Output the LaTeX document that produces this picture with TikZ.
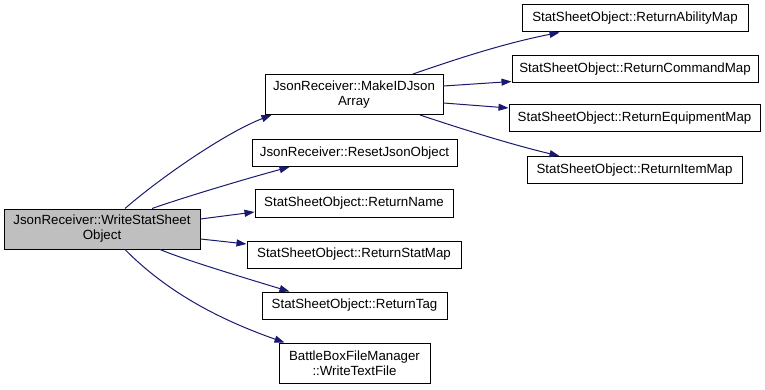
\documentclass[tikz,border=0pt]{standalone}
\usepackage{fontspec}
\setmainfont{Liberation Sans}
\usetikzlibrary{arrows.meta}
\definecolor{edgeblue}{HTML}{191970}
\definecolor{rootgray}{HTML}{BFBFBF}
\begin{document}
\begin{tikzpicture}[x=1pt,y=-1pt,
  fn/.style={draw=black,line width=1pt,fill=white,inner sep=0pt,align=center,
    font=\fontsize{13.3}{15}\selectfont},
  one/.style={fn,minimum height=27pt},
  two/.style={fn,minimum height=40pt},
  call/.style={draw=edgeblue,line width=1pt,
    -{Triangle[length=10pt,width=7pt,fill=edgeblue]}}]
\useasboundingbox (0,0) rectangle (765,390);

% caller
\node[two,fill=rootgray,minimum width=196pt] (root) at (102,229)
  {JsonReceiver::WriteStatSheet\\Object};

% direct callees
\node[two,minimum width=178pt] (mk) at (354,94.5) {JsonReceiver::MakeIDJson\\Array};
\node[one,minimum width=205pt] (reset) at (354.5,153) {JsonReceiver::ResetJsonObject};
\node[one,minimum width=198pt] (name) at (354,203.5) {StatSheetObject::ReturnName};
\node[one,minimum width=214pt] (stat) at (354,254.5) {StatSheetObject::ReturnStatMap};
\node[one,minimum width=185pt] (tag) at (354.5,305.5) {StatSheetObject::ReturnTag};
\node[two,minimum width=151pt] (wtf) at (354.5,363) {BattleBoxFileManager\\::WriteTextFile};

% callees of MakeIDJsonArray
\node[one,minimum width=226pt] (abil) at (635,18.5) {StatSheetObject::ReturnAbilityMap};
\node[one,minimum width=246pt] (cmd) at (635,69) {StatSheetObject::ReturnCommandMap};
\node[one,minimum width=251pt] (equip) at (634.5,118.5) {StatSheetObject::ReturnEquipmentMap};
\node[one,minimum width=215pt] (item) at (634.5,170) {StatSheetObject::ReturnItemMap};

% calls from WriteStatSheetObject
\draw[call] ([xshift=23pt]root.north) .. controls (160,178) and (225,133) .. ([xshift=7pt]mk.south west);
\draw[call] ([xshift=50pt]root.north) .. controls (185,197) and (245,179) .. ([xshift=38pt]reset.south west);
\draw[call] ([yshift=10pt]root.east) -- ([yshift=-8.5pt]name.west);
\draw[call] ([yshift=-10pt]root.east) -- ([yshift=10.5pt]stat.west);
\draw[call] ([xshift=58pt]root.south) .. controls (185,260) and (245,278) .. ([xshift=28pt]tag.north west);
\draw[call] ([xshift=23pt]root.south) .. controls (165,290) and (215,318) .. ([xshift=6pt]wtf.north west);

% calls from MakeIDJsonArray
\draw[call] ([xshift=59pt]mk.north) .. controls (445,63) and (500,44) .. ([xshift=38pt]abil.south west);
\draw[call] ([yshift=8.5pt]mk.east) -- ([yshift=1.5pt]cmd.south west);
\draw[call] ([yshift=-8.5pt]mk.east) -- ([yshift=10.5pt]equip.west);
\draw[call] ([xshift=66pt]mk.south) .. controls (450,125) and (505,143) .. ([xshift=33pt]item.north west);
\end{tikzpicture}
\end{document}
